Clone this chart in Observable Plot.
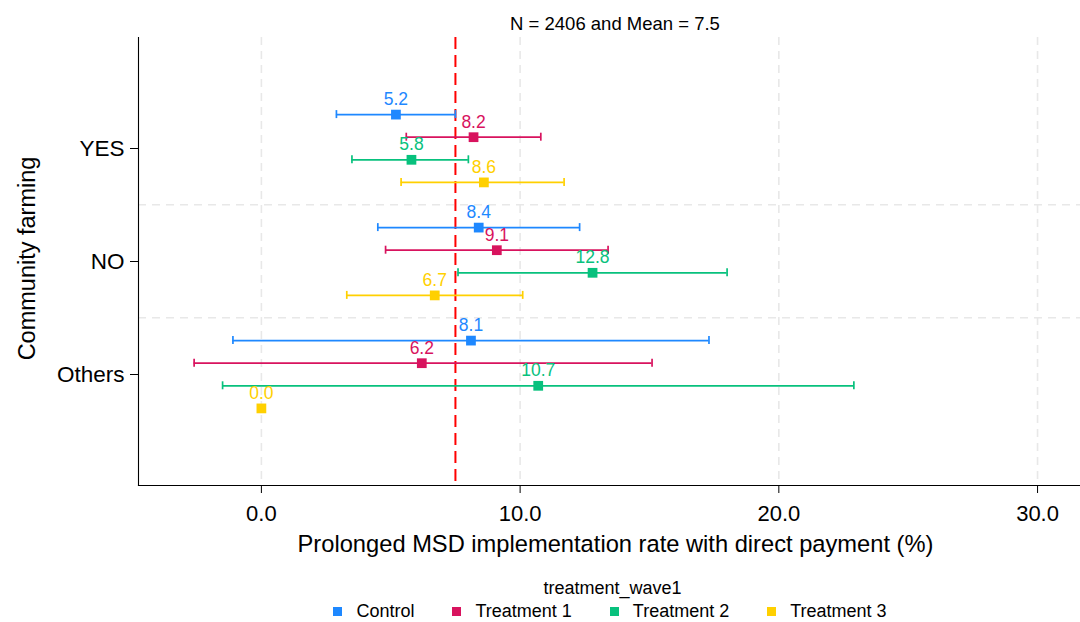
<!DOCTYPE html>
<html>
<head>
<meta charset="utf-8">
<script src="https://cdn.jsdelivr.net/npm/d3@7"></script>
<script src="https://cdn.jsdelivr.net/npm/@observablehq/plot@0.6"></script>
<style>
  body { margin: 0; background: #fff; font-family: "Liberation Sans", Arial, sans-serif; color: #000; }
  #wrap { width: 1080px; height: 622px; overflow: hidden; position: relative; }
  #title { margin-left: 138px; width: 954px; height: 21px; padding-top: 15px; font-size: 18.5px; line-height: 18px; text-align: center; }
  #legend { margin-left: 133px; width: 954px; padding-top: 21px; text-align: center; }
  #legend .lt { font-size: 18px; line-height: 18px; padding-left: 5px; }
  #legend .row { display: flex; justify-content: center; margin-top: 5px; font-size: 18px; line-height: 18px; height: 18px; }
  #legend .item { display: flex; align-items: center; margin: 0 19px; }
  #legend .sw { width: 9px; height: 9px; margin-right: 14px; }
  svg { display: block; }
</style>
</head>
<body>
<div id="wrap">
  <div id="title"></div>
  <div id="chart"></div>
  <div id="legend"></div>
</div>
<script>
// ---- data ----
const titleText = "N = 2406 and Mean = 7.5";
const xTitle = "Prolonged MSD implementation rate with direct payment (%)";
const yTitle = "Community farming";
const legendTitle = "treatment_wave1";
const meanValue = 7.5;

const categories = ["YES", "NO", "Others"];
const treatments = ["Control", "Treatment 1", "Treatment 2", "Treatment 3"];
const colors = ["#1E88FF", "#D8135E", "#08C17D", "#FFD000"];
const xTicks = [0, 10, 20, 30];

const controlEst  = [5.2, 8.4, 8.1];
const controlLow  = [2.9, 4.5, -1.1];
const controlHigh = [7.5, 12.3, 17.3];

const t1Est  = [8.2, 9.1, 6.2];
const t1Low  = [5.6, 4.8, -2.6];
const t1High = [10.8, 13.4, 15.1];

const t2Est  = [5.8, 12.8, 10.7];
const t2Low  = [3.5, 7.6, -1.5];
const t2High = [8.0, 18.0, 22.9];

const t3Est  = [8.6, 6.7, 0.0];
const t3Low  = [5.4, 3.3, null];
const t3High = [11.7, 10.1, null];

// ---- table ----
const series = [
  [controlEst, controlLow, controlHigh],
  [t1Est, t1Low, t1High],
  [t2Est, t2Low, t2High],
  [t3Est, t3Low, t3High]
];
const rows = [];
treatments.forEach((t, i) => {
  const [est, lo, hi] = series[i];
  categories.forEach((c, j) => {
    rows.push({treatment: t, cat: c, est: est[j], lo: lo[j], hi: hi[j]});
  });
});

document.getElementById("title").textContent = titleText;

// ---- layout constants ----
const W = 1080, H = 522, mT = 1, mB = 73, mL = 138, mR = 0;
const pIn = 0.93, pOut = 0.94;
const step = (H - mT - mB) / (categories.length - pIn + 2 * pOut);
const dodge = 22.6;
const font = "'Liberation Sans', Arial, sans-serif";

const marks = [
  Plot.gridX(xTicks, {stroke: "#e8e8e8", strokeOpacity: 1, strokeWidth: 1.6, strokeDasharray: "8,6"}),
  Plot.ruleY(categories.slice(1), {dy: -step / 2, stroke: "#e8e8e8", strokeWidth: 1.6, strokeDasharray: "8,6"}),
  Plot.ruleX([meanValue], {stroke: "#FF0000", strokeWidth: 2, strokeDasharray: "12,6"}),
  Plot.frame({anchor: "left", stroke: "#000", strokeWidth: 1.1}),
  Plot.frame({anchor: "bottom", stroke: "#000", strokeWidth: 1.1}),
  Plot.axisX({ticks: xTicks, tickFormat: d3.format(".1f"), tickSize: 8, tickPadding: 12, fontSize: 22, label: null}),
  Plot.axisY({tickSize: 8, tickPadding: 6, fontSize: 22.5, label: null}),
  Plot.text([xTitle], {frameAnchor: "bottom", lineAnchor: "middle", textAnchor: "middle", dy: 59, dx: 6, fontSize: 23.7, fill: "#000"}),
  Plot.text([yTitle], {frameAnchor: "left", lineAnchor: "middle", textAnchor: "middle", dx: -111, dy: -3, rotate: -90, fontSize: 23.5, fill: "#000"})
];

treatments.forEach((t, i) => {
  const sub = rows.filter(d => d.treatment === t);
  const withErr = sub.filter(d => d.lo != null && d.hi != null);
  const off = (i - 1.5) * dodge;
  marks.push(
    Plot.ruleY(withErr, {y: "cat", x1: "lo", x2: "hi", stroke: "treatment", strokeWidth: 1.7, dy: off}),
    Plot.tickX(withErr, {x: "lo", y: "cat", stroke: "treatment", strokeWidth: 1.7, dy: off}),
    Plot.tickX(withErr, {x: "hi", y: "cat", stroke: "treatment", strokeWidth: 1.7, dy: off}),
    Plot.dot(sub, {x: "est", y: "cat", fill: "treatment", symbol: "square", r: 5.5, dy: off}),
    Plot.text(sub, {x: "est", y: "cat", text: d => d.est.toFixed(1), fill: "treatment", fontSize: 17.5, dy: off - 15})
  );
});

const chart = Plot.plot({
  width: W, height: H,
  marginTop: mT, marginBottom: mB, marginLeft: mL, marginRight: mR,
  style: {fontFamily: font, background: "#fff", color: "#000", overflow: "visible"},
  x: {domain: [-4.75, 31.66]},
  y: {type: "band", domain: categories, paddingInner: pIn, paddingOuter: pOut},
  color: {domain: treatments, range: colors},
  marks
});
document.getElementById("chart").appendChild(chart);

// ---- legend ----
const lg = document.getElementById("legend");
const lt = document.createElement("div");
lt.className = "lt";
lt.textContent = legendTitle;
lg.appendChild(lt);
const row = document.createElement("div");
row.className = "row";
treatments.forEach((t, i) => {
  const it = document.createElement("div");
  it.className = "item";
  const sw = document.createElement("span");
  sw.className = "sw";
  sw.style.background = colors[i];
  const lab = document.createElement("span");
  lab.textContent = t;
  it.appendChild(sw);
  it.appendChild(lab);
  row.appendChild(it);
});
lg.appendChild(row);
</script>
</body>
</html>
